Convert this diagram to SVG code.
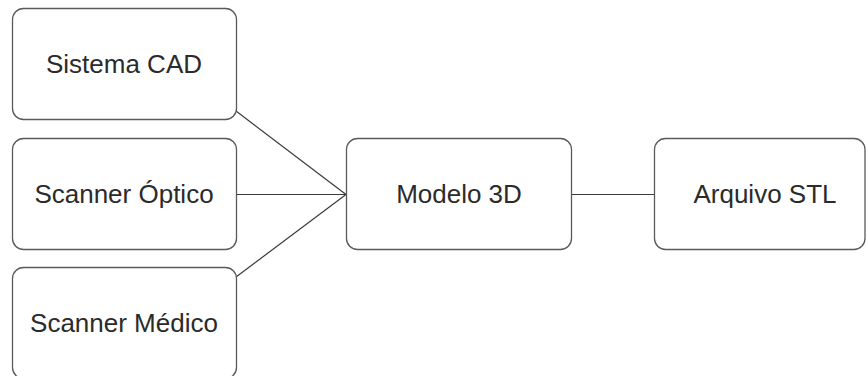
<svg xmlns="http://www.w3.org/2000/svg" width="866" height="376" viewBox="0 0 866 376">
<style>
.box{fill:#fff;stroke:#5a5a5a;stroke-width:1.3}
.lbl{font-family:"Liberation Sans",Arial,sans-serif;font-size:26px;fill:#2b2b2b;text-anchor:middle}
.edge{stroke:#3a3a3a;stroke-width:1.2;fill:none}
</style>
<rect width="866" height="376" fill="#fff"/>
<g id="connectors">
<line class="edge" x1="236" y1="111" x2="346" y2="194.5"/>
<line class="edge" x1="236" y1="194.5" x2="346" y2="194.5"/>
<line class="edge" x1="236" y1="277" x2="346" y2="194.5"/>
<line class="edge" x1="571.5" y1="194.5" x2="654.5" y2="194.5"/>
</g>
<g id="sistema-cad">
<rect class="box" x="12.5" y="8.5" width="224" height="111" rx="11"/>
<text class="lbl" x="124" y="73">Sistema CAD</text>
</g>
<g id="scanner-optico">
<rect class="box" x="12.5" y="138.5" width="224" height="111" rx="11"/>
<text class="lbl" x="124" y="203">Scanner Óptico</text>
</g>
<g id="scanner-medico">
<rect class="box" x="12.5" y="267.5" width="224" height="111" rx="11"/>
<text class="lbl" x="124" y="332">Scanner Médico</text>
</g>
<g id="modelo-3d">
<rect class="box" x="346.5" y="138.5" width="225" height="111" rx="11"/>
<text class="lbl" x="459" y="203">Modelo 3D</text>
</g>
<g id="arquivo-stl">
<rect class="box" x="654.5" y="138.5" width="210.5" height="111" rx="11"/>
<text class="lbl" x="765" y="203">Arquivo STL</text>
</g>
</svg>
